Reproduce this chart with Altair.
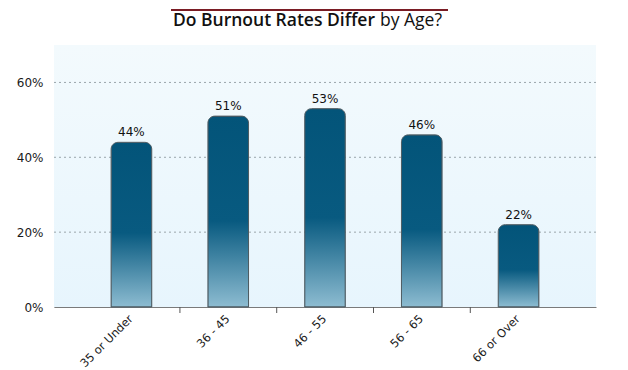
import altair as alt
import pandas as pd

categories = ["35 or Under", "36 - 45", "46 - 55", "56 - 65", "66 or Over"]
values = [44, 51, 53, 46, 22]
y_ticks = [0, 20, 40, 60]
title_bold = "Do Burnout Rates Differ"
title_regular = "by Age?"

df = pd.DataFrame({"cat": categories, "val": values,
                   "lbl": [f"{v}%" for v in values]})
df_ticks = pd.DataFrame({"cat": categories[:-1]})
df_grid = pd.DataFrame({"g": y_ticks[1:]})

W, H = 542, 262

xscale = alt.Scale(domain=categories, paddingInner=0.58, paddingOuter=0.59)
yscale = alt.Scale(domain=[0, 70], nice=False)

grad = alt.Gradient(
    gradient="linear", x1=0, y1=0, x2=0, y2=1,
    stops=[alt.GradientStop(color="#035479", offset=0),
           alt.GradientStop(color="#085a80", offset=0.55),
           alt.GradientStop(color="#8dbcd1", offset=1)],
)

bg_grad = alt.Gradient(
    gradient="linear", x1=0, y1=0, x2=0, y2=1,
    stops=[alt.GradientStop(color="#f3fafd", offset=0),
           alt.GradientStop(color="#e7f5fd", offset=1)],
)

bg = alt.Chart(pd.DataFrame({"a": [0]})).mark_rect(fill=bg_grad).encode(
    x=alt.value(0), x2=alt.value(W), y=alt.value(0), y2=alt.value(H)
)

grid = alt.Chart(df_grid).mark_rule(color="#9aa5aa", strokeDash=[2, 3], strokeWidth=1).encode(
    y=alt.Y("g:Q", scale=yscale),
    x=alt.value(0), x2=alt.value(W),
)

base = alt.Chart(df)

bars = base.mark_bar(
    fill=grad, stroke="#4d5b62", strokeWidth=1,
    cornerRadiusTopLeft=7, cornerRadiusTopRight=7,
).encode(
    x=alt.X("cat:N", scale=xscale, title=None,
            axis=alt.Axis(labelAngle=-45, labelAlign="right", labelBaseline="middle",
                          ticks=False, domainColor="#7a7a7a", labelColor="#1a1a1a",
                          labelFont="DejaVu Sans", labelFontSize=11.5, labelPadding=10,
                          grid=False)),
    y=alt.Y("val:Q", scale=yscale, title=None,
            axis=alt.Axis(values=y_ticks, format=".0f", labelExpr="datum.value + '%'",
                          ticks=False, domainColor="#9a9a9a", labelColor="#1a1a1a",
                          labelFont="DejaVu Sans", labelFontSize=12, labelPadding=11,
                          grid=False)),
)

texts = base.mark_text(
    baseline="bottom", dy=-3, font="DejaVu Sans", fontSize=12, color="#111111"
).encode(
    x=alt.X("cat:N", scale=xscale),
    y=alt.Y("val:Q", scale=yscale),
    text="lbl:N",
)

ticks = alt.Chart(df_ticks).mark_rule(color="#555555", xOffset=48.5, strokeWidth=1).encode(
    x=alt.X("cat:N", scale=xscale),
    y=alt.value(H),
    y2=alt.value(H + 6),
)

red_line = alt.Chart(pd.DataFrame({"a": [0]})).mark_rule(color="#7a1c24", strokeWidth=2).encode(
    x=alt.value(117), x2=alt.value(394), y=alt.value(-35)
)

t1 = alt.Chart(pd.DataFrame({"t": [title_bold]})).mark_text(
    align="right", baseline="middle", font="Open Sans", fontSize=17.5,
    fontWeight=600, color="#111111"
).encode(x=alt.value(321), y=alt.value(-24), text="t:N")

t2 = alt.Chart(pd.DataFrame({"t": [title_regular]})).mark_text(
    align="left", baseline="middle", font="Open Sans", fontSize=17.5,
    fontWeight="normal", color="#111111"
).encode(x=alt.value(326), y=alt.value(-24), text="t:N")

chart = alt.layer(bg, grid, bars, texts, ticks, red_line, t1, t2).properties(
    width=W, height=H,
    autosize=alt.AutoSizeParams(type="none"),
    padding={"left": 46, "top": 37, "right": 24, "bottom": 63},
    background="white",
).configure_view(fill="#ebf6fc", stroke=None)

chart.save("out.html", embed_options={"renderer": "svg", "actions": False})
